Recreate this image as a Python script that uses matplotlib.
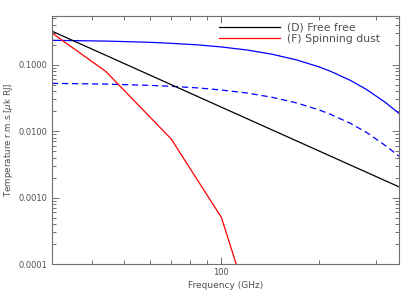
import matplotlib
matplotlib.use("Agg")
import matplotlib.pyplot as plt
from matplotlib.ticker import FixedLocator, NullFormatter, FixedFormatter

# Data
freq_cmb = [30, 44, 60, 70, 85, 100, 120, 143, 170, 200, 217, 250, 280, 320, 353]
cmb_solid = [0.233, 0.227, 0.2175, 0.210, 0.1985, 0.185, 0.1665, 0.144, 0.1187,
             0.0928, 0.0797, 0.058, 0.0425, 0.0272, 0.0185]
cmb_dashed = [0.0524, 0.0511, 0.0489, 0.0473, 0.0447, 0.0416, 0.0375, 0.0324,
              0.0267, 0.0209, 0.0179, 0.0131, 0.0096, 0.0061, 0.0042]
freq_ff = [30, 353]
free_free = [0.32, 0.00145]
freq_sd = [30, 44, 70, 100, 143]
spinning_dust = [0.30, 0.079, 0.0076, 0.0005, 0.000002]

legend_labels = ["(D) Free free", "(F) Spinning dust"]
y_ticks = [0.0001, 0.001, 0.01, 0.1]
y_tick_labels = ["0.0001", "0.0010", "0.0100", "0.1000"]
x_major = [100]
x_major_labels = ["100"]
x_minor = [40, 50, 60, 70, 80, 90, 200, 300]

gray = "#707070"
txt = "#505050"

fig = plt.figure(figsize=(4.15, 2.97), dpi=100)
ax = fig.add_axes([52/415, 1-264/297, (399-52)/415, (264-15.7)/297])

ax.plot(freq_cmb, cmb_solid, color="#0000ff", lw=0.9)
ax.plot(freq_cmb, cmb_dashed, color="#0000ff", lw=0.9, dashes=(5, 3))
l1, = ax.plot(freq_ff, free_free, color="black", lw=0.9)
l2, = ax.plot(freq_sd, spinning_dust, color="#ff0000", lw=0.9)

ax.set_xscale("log")
ax.set_yscale("log")
ax.set_xlim(30, 353)
ax.set_ylim(0.0001, 0.547)

ax.xaxis.set_major_locator(FixedLocator(x_major))
ax.xaxis.set_major_formatter(FixedFormatter(x_major_labels))
ax.xaxis.set_minor_locator(FixedLocator(x_minor))
ax.xaxis.set_minor_formatter(NullFormatter())
ax.yaxis.set_major_locator(FixedLocator(y_ticks))
ax.yaxis.set_major_formatter(FixedFormatter(y_tick_labels))

for s in ax.spines.values():
    s.set_color(gray)
    s.set_linewidth(0.8)
ax.tick_params(which="both", direction="in", top=True, right=True,
               color=gray, labelcolor=txt, labelsize=6, width=0.7)
ax.tick_params(which="major", length=5, pad=3)
ax.tick_params(which="minor", length=3)

ax.set_xlabel("Frequency (GHz)", fontsize=6.5, color=txt, labelpad=3)
ax.set_ylabel("Temperature r.m.s.[$\\mu$k RJ]", fontsize=6.3, color=txt)
ax.yaxis.set_label_coords(-37/347, 0.5)

leg = ax.legend([l1, l2], legend_labels, loc="upper left", frameon=False,
                fontsize=7.8, handlelength=5.6, handletextpad=0.7,
                labelspacing=0.15, borderaxespad=0.0, borderpad=0.0,
                bbox_to_anchor=(167/347, 0.973))
for t in leg.get_texts():
    t.set_color(txt)

fig.savefig("out.png", dpi=100)
